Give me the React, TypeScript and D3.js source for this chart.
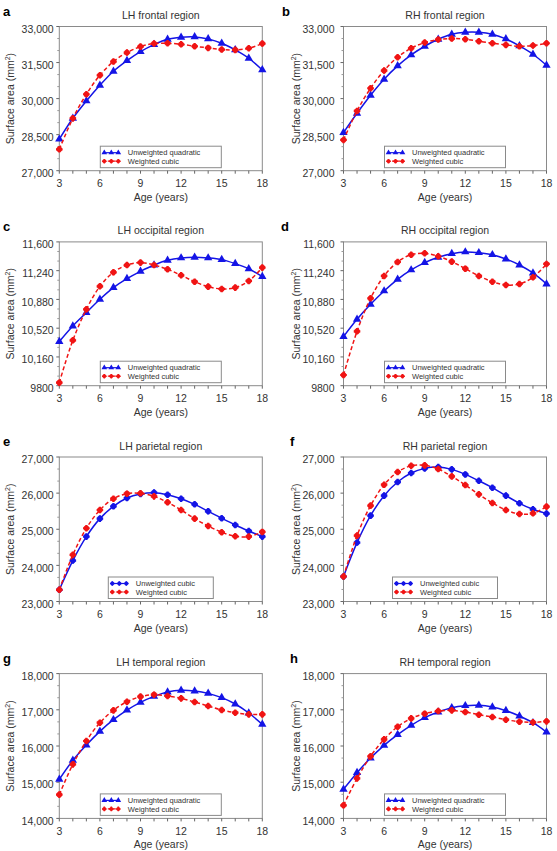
import React from 'react';
import * as d3 from 'd3';

// ages on the x axis (one point per year)
const AGES = [3, 4, 5, 6, 7, 8, 9, 10, 11, 12, 13, 14, 15, 16, 17, 18];
const X_TICKS = [3, 6, 9, 12, 15, 18];

const FRONTAL_TICKS = [27000, 28500, 30000, 31500, 33000];
const OCCIPITAL_TICKS = [9800, 10160, 10520, 10880, 11240, 11600];
const PARIETAL_TICKS = [23000, 24000, 25000, 26000, 27000];
const TEMPORAL_TICKS = [14000, 15000, 16000, 17000, 18000];

// surface area (mm2)
const lhFrontalUnw = [28310, 29181, 29903, 30555, 31138, 31581, 31957, 32248, 32470, 32553, 32568, 32483, 32304, 32026, 31679, 31193];
const lhFrontalW = [27891, 29178, 30181, 30972, 31540, 31915, 32164, 32289, 32304, 32262, 32179, 32109, 32040, 32026, 32095, 32289];
const rhFrontalUnw = [28585, 29389, 30139, 30805, 31360, 31817, 32179, 32470, 32678, 32761, 32761, 32678, 32483, 32192, 31845, 31387];
const rhFrontalW = [28279, 29487, 30430, 31166, 31721, 32095, 32331, 32456, 32498, 32470, 32387, 32304, 32234, 32179, 32206, 32304];
const lhOccipitalUnw = [10352, 10547, 10715, 10882, 11028, 11140, 11232, 11311, 11370, 11399, 11408, 11399, 11378, 11328, 11262, 11165];
const lhOccipitalW = [9838, 10368, 10756, 11044, 11219, 11311, 11341, 11311, 11257, 11182, 11102, 11040, 11011, 11028, 11111, 11278];
const rhOccipitalUnw = [10414, 10631, 10819, 10986, 11132, 11249, 11341, 11408, 11453, 11474, 11465, 11440, 11386, 11311, 11211, 11073];
const rhOccipitalW = [9934, 10481, 10894, 11174, 11349, 11440, 11457, 11420, 11353, 11265, 11174, 11102, 11061, 11073, 11157, 11324];
const lhParietalUnw = [23324, 24134, 24796, 25294, 25635, 25865, 25976, 26013, 25957, 25846, 25690, 25496, 25303, 25119, 24953, 24796];
const lhParietalW = [23324, 24291, 25028, 25533, 25846, 25985, 25995, 25911, 25745, 25533, 25294, 25091, 24916, 24806, 24796, 24926];
const rhParietalUnw = [23692, 24631, 25377, 25930, 26307, 26556, 26685, 26721, 26657, 26518, 26343, 26150, 25930, 25718, 25552, 25433];
const rhParietalW = [23692, 24824, 25653, 26233, 26583, 26758, 26768, 26666, 26463, 26224, 25966, 25727, 25533, 25423, 25441, 25626];
const lhTemporalUnw = [15079, 15603, 16028, 16405, 16727, 16994, 17206, 17371, 17491, 17537, 17518, 17454, 17335, 17160, 16911, 16598];
const lhTemporalW = [14656, 15493, 16138, 16644, 16985, 17224, 17363, 17418, 17381, 17316, 17215, 17104, 16994, 16920, 16874, 16874];
const rhTemporalUnw = [14803, 15263, 15668, 16018, 16313, 16570, 16783, 16938, 17058, 17113, 17123, 17076, 16976, 16828, 16644, 16386];
const rhTemporalW = [14361, 15106, 15714, 16183, 16533, 16763, 16893, 16966, 16985, 16938, 16865, 16801, 16727, 16671, 16653, 16681];

const BLUE = '#1414e6';
const RED = '#f01414';
const INK = '#333';
const FONT = '"Liberation Sans", Arial, Helvetica, sans-serif';

const COLS = [
  { x0: 59.3, x1: 262.3, labelEnd: 53.7, titleX: 14 },
  { x0: 343.5, x1: 546.5, labelEnd: 334.5, titleX: 299.5 },
];
const ROWS = [
  { top: 26.5, bottom: 170.7 },
  { top: 241.9, bottom: 385.7 },
  { top: 457, bottom: 601.5 },
  { top: 673.6, bottom: 818.4 },
];

const panels = [
  { letter: 'a', letterX: 3, title: 'LH frontal region', col: 0, row: 0, ticks: FRONTAL_TICKS, unw: lhFrontalUnw, w: lhFrontalW, cubic: false },
  { letter: 'b', letterX: 282, title: 'RH frontal region', col: 1, row: 0, ticks: FRONTAL_TICKS, unw: rhFrontalUnw, w: rhFrontalW, cubic: false },
  { letter: 'c', letterX: 3, title: 'LH occipital region', col: 0, row: 1, ticks: OCCIPITAL_TICKS, unw: lhOccipitalUnw, w: lhOccipitalW, cubic: false },
  { letter: 'd', letterX: 281, title: 'RH occipital region', col: 1, row: 1, ticks: OCCIPITAL_TICKS, unw: rhOccipitalUnw, w: rhOccipitalW, cubic: false },
  { letter: 'e', letterX: 3, title: 'LH parietal region', col: 0, row: 2, ticks: PARIETAL_TICKS, unw: lhParietalUnw, w: lhParietalW, cubic: true },
  { letter: 'f', letterX: 290, title: 'RH parietal region', col: 1, row: 2, ticks: PARIETAL_TICKS, unw: rhParietalUnw, w: rhParietalW, cubic: true },
  { letter: 'g', letterX: 3, title: 'LH temporal region', col: 0, row: 3, ticks: TEMPORAL_TICKS, unw: lhTemporalUnw, w: lhTemporalW, cubic: false },
  { letter: 'h', letterX: 290, title: 'RH temporal region', col: 1, row: 3, ticks: TEMPORAL_TICKS, unw: rhTemporalUnw, w: rhTemporalW, cubic: false },
];

const fmt = (v: number) => (v < 10000 ? String(v) : d3.format(',')(v));

function Marker({ kind, cx, cy, color, small }: { kind: string; cx: number; cy: number; color: string; small?: boolean }) {
  if (kind === 'tri') {
    const p = d3.symbol().type(d3.symbolTriangle).size(small ? 14 : 30)();
    return <path d={p || ''} transform={`translate(${cx},${cy})`} fill={color} />;
  }
  const cross = d3.symbol().type(d3.symbolCross).size(small ? 12 : 24)();
  return (
    <g transform={`translate(${cx},${cy})`} fill={color}>
      <circle r={small ? 1.9 : 2.8} />
      <path d={cross || ''} />
    </g>
  );
}

function Panel({ p }: { p: typeof panels[number] }) {
  const col = COLS[p.col];
  const row = ROWS[p.row];
  const ticks = p.ticks;
  const x = d3.scaleLinear().domain([3, 18]).range([col.x0, col.x1]);
  const y = d3.scaleLinear().domain([ticks[0], ticks[ticks.length - 1]]).range([row.bottom, row.top]);
  const line = d3
    .line<number>()
    .x((_, i) => x(AGES[i]))
    .y((d) => y(d))
    .curve(d3.curveCatmullRom);

  const step = ticks[1] - ticks[0];
  const minor: number[] = [];
  ticks.slice(0, -1).forEach((t) => {
    minor.push(t + step / 3, t + (2 * step) / 3);
  });

  const cx = (col.x0 + col.x1) / 2;
  const cy = (row.top + row.bottom) / 2;
  const blueKind = p.cubic ? 'cross' : 'tri';
  const blueLabel = p.cubic ? 'Unweighted cubic' : 'Unweighted quadratic';
  const lw = p.cubic ? 105 : 121;
  const lh = 21.5;
  const lx = cx - lw / 2;
  const ly = row.bottom - 3 - lh;

  return (
    <g fontFamily={FONT}>
      <text x={p.letterX} y={row.top - 11} fontSize={13} fontWeight="bold" fill="#000">{p.letter}</text>
      <text x={cx} y={row.top - 7.5} fontSize={10.5} textAnchor="middle" fill={INK}>{p.title}</text>

      <rect x={col.x0} y={row.top} width={col.x1 - col.x0} height={row.bottom - row.top} fill="#fff" stroke="#8a8a8a" strokeWidth={1} />

      {/* y axis */}
      {ticks.map((t) => (
        <g key={t}>
          <line x1={col.x0 - 3} x2={col.x0} y1={y(t)} y2={y(t)} stroke="#666" />
          <text x={col.labelEnd} y={y(t) + 2.5} dy="0.35em" fontSize={10.5} textAnchor="end" fill={INK}>{fmt(t)}</text>
        </g>
      ))}
      {minor.map((t) => (
        <line key={t} x1={col.x0 - 2} x2={col.x0} y1={y(t)} y2={y(t)} stroke="#999" />
      ))}
      <text transform={`translate(${col.titleX},${cy}) rotate(-90)`} textAnchor="middle" fontSize={10.5} fill={INK}>
        <tspan>Surface area (mm</tspan>
        <tspan dy={-4} fontSize={7}>2</tspan>
        <tspan dy={4}>)</tspan>
      </text>

      {/* x axis */}
      {AGES.map((a) => (
        <line key={a} x1={x(a)} x2={x(a)} y1={row.bottom} y2={row.bottom + 3} stroke="#666" />
      ))}
      {X_TICKS.map((a) => (
        <text key={a} x={x(a)} y={row.bottom + 16.3} fontSize={10.5} textAnchor="middle" fill={INK}>{a}</text>
      ))}
      <text x={cx} y={row.bottom + 30} fontSize={10.5} textAnchor="middle" fill={INK}>Age (years)</text>

      {/* series */}
      <path d={line(p.unw) || ''} fill="none" stroke={BLUE} strokeWidth={1.5} />
      {p.unw.map((v, i) => (
        <Marker key={'u' + i} kind={blueKind} cx={x(AGES[i])} cy={y(v)} color={BLUE} />
      ))}
      <path d={line(p.w) || ''} fill="none" stroke={RED} strokeWidth={1.5} strokeDasharray="4 2.5" />
      {p.w.map((v, i) => (
        <Marker key={'w' + i} kind="cross" cx={x(AGES[i])} cy={y(v)} color={RED} />
      ))}

      {/* legend */}
      <rect x={lx} y={ly} width={lw} height={lh} fill="#fff" stroke="#8a8a8a" strokeWidth={1} />
      <line x1={lx + 2.5} x2={lx + 19.5} y1={ly + 6.5} y2={ly + 6.5} stroke={BLUE} strokeWidth={1.2} />
      {[4, 11, 18].map((o) => (
        <Marker key={'lu' + o} kind={blueKind} cx={lx + o} cy={ly + 6.5} color={BLUE} small />
      ))}
      <text x={lx + 27.5} y={ly + 6.5} dy="0.35em" fontSize={7.5} fill={INK}>{blueLabel}</text>
      <line x1={lx + 2.5} x2={lx + 19.5} y1={ly + 15} y2={ly + 15} stroke={RED} strokeWidth={1.2} strokeDasharray="3 2" />
      {[4, 11, 18].map((o) => (
        <Marker key={'lw' + o} kind="cross" cx={lx + o} cy={ly + 15} color={RED} small />
      ))}
      <text x={lx + 27.5} y={ly + 15} dy="0.35em" fontSize={7.5} fill={INK}>Weighted cubic</text>
    </g>
  );
}

export default function App() {
  return (
    <svg width={557} height={851} style={{ position: 'absolute', left: 0, top: 0, background: '#fff' }}>
      {panels.map((p) => (
        <Panel key={p.letter} p={p} />
      ))}
    </svg>
  );
}
